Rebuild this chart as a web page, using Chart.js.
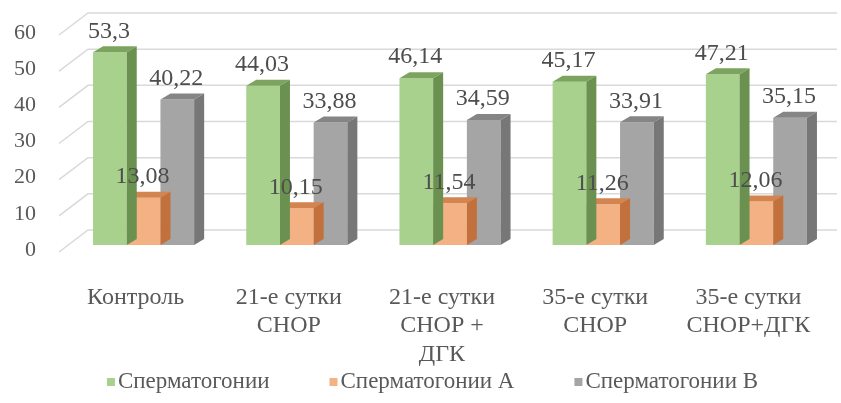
<!DOCTYPE html>
<html>
<head>
<meta charset="utf-8">
<script src="https://cdn.jsdelivr.net/npm/chart.js@4.4.0/dist/chart.umd.min.js"></script>
<style>
  html, body { margin: 0; padding: 0; background: #fff; }
  #wrap { width: 841px; height: 403px; }
</style>
</head>
<body>
<div id="wrap"><canvas id="spermChart" width="841" height="403"></canvas></div>
<script>
const categories = [
    'Контроль',
    ['21-е сутки', 'СНОР'],
    ['21-е сутки', 'СНОР +', 'ДГК'],
    ['35-е сутки', 'СНОР'],
    ['35-е сутки', 'СНОР+ДГК']
];
const spermatogonia = [53.3, 44.03, 46.14, 45.17, 47.21];
const spermatogoniaA = [13.08, 10.15, 11.54, 11.26, 12.06];
const spermatogoniaB = [40.22, 33.88, 34.59, 33.91, 35.15];
const yTicks = [0, 10, 20, 30, 40, 50, 60];

const serif = '"Liberation Serif", "Times New Roman", serif';
const textColor = '#595959';
const gridColor = '#d9d9d9';

// depth of the fake 3d look
const depthX = 10;
const depthY = 6;
const wallX = 21;
const wallY = 15;

const faces = [
    { side: '#6b9150', top: '#7da45f' },
    { side: '#c2703c', top: '#d4854f' },
    { side: '#777777', top: '#858585' }
];

const threeD = {
    id: 'threeD',
    beforeDatasetsDraw(chart) {
        const ctx = chart.ctx;
        const y = chart.scales.y;
        const area = chart.chartArea;
        ctx.save();
        ctx.strokeStyle = gridColor;
        ctx.lineWidth = 1.5;
        yTicks.forEach(v => {
            const py = y.getPixelForValue(v);
            ctx.beginPath();
            ctx.moveTo(area.left - 8, py + 7);
            ctx.lineTo(area.left + wallX, py - wallY);
            ctx.lineTo(chart.width - 4, py - wallY);
            ctx.stroke();
        });
        ctx.restore();
    },
    afterDatasetDraw(chart, args) {
        const ctx = chart.ctx;
        const face = faces[args.index];
        ctx.save();
        args.meta.data.forEach(bar => {
            const p = bar.getProps(['x', 'y', 'base', 'width'], true);
            const l = p.x - p.width / 2;
            const r = p.x + p.width / 2;
            ctx.fillStyle = face.top;
            ctx.beginPath();
            ctx.moveTo(l, p.y);
            ctx.lineTo(r, p.y);
            ctx.lineTo(r + depthX, p.y - depthY);
            ctx.lineTo(l + depthX, p.y - depthY);
            ctx.closePath();
            ctx.fill();
            ctx.fillStyle = face.side;
            ctx.beginPath();
            ctx.moveTo(r, p.y);
            ctx.lineTo(r + depthX, p.y - depthY);
            ctx.lineTo(r + depthX, p.base - depthY);
            ctx.lineTo(r, p.base);
            ctx.closePath();
            ctx.fill();
        });
        ctx.restore();
    },
    afterDatasetsDraw(chart) {
        const ctx = chart.ctx;
        ctx.save();
        ctx.font = '24px ' + serif;
        ctx.fillStyle = '#4d4d4d';
        ctx.textAlign = 'center';
        ctx.textBaseline = 'middle';
        chart.data.datasets.forEach((ds, i) => {
            chart.getDatasetMeta(i).data.forEach((bar, j) => {
                const text = String(ds.data[j]).replace('.', ',');
                ctx.fillText(text, bar.x - 1, bar.y - 21);
            });
        });
        ctx.restore();
    },
    afterDraw(chart) {
        // legend with wide gaps between entries
        const ctx = chart.ctx;
        const items = chart.data.datasets;
        const gap = 60;
        ctx.save();
        ctx.font = '23px ' + serif;
        ctx.textBaseline = 'middle';
        const widths = items.map(ds => 8 + 3 + ctx.measureText(ds.label).width);
        const total = widths.reduce((a, b) => a + b, 0) + gap * (items.length - 1);
        let x = (chart.width - total) / 2 + 12;
        const cy = 382;
        items.forEach((ds, i) => {
            ctx.fillStyle = ds.backgroundColor;
            ctx.fillRect(x, cy - 4, 8, 8);
            ctx.fillStyle = textColor;
            ctx.fillText(ds.label, x + 11, cy);
            x += widths[i] + gap;
        });
        ctx.restore();
    }
};

// drop the extra room chart.js reserves around tick labels
function noLabelPadding(scale) {
    scale.paddingTop = 0;
    scale.paddingBottom = 0;
    scale.paddingLeft = 0;
    scale.paddingRight = 0;
}

const ctx = document.getElementById('spermChart').getContext('2d');

new Chart(ctx, {
    type: 'bar',
    data: {
        labels: categories,
        datasets: [{
            label: 'Сперматогонии',
            data: spermatogonia,
            backgroundColor: '#a9d18e'
        }, {
            label: 'Сперматогонии А',
            data: spermatogoniaA,
            backgroundColor: '#f4b183'
        }, {
            label: 'Сперматогонии В',
            data: spermatogoniaB,
            backgroundColor: '#a5a5a5'
        }]
    },
    options: {
        responsive: false,
        animation: false,
        layout: {
            padding: { top: 28, right: 8, bottom: 32, left: 0 }
        },
        datasets: {
            bar: {
                categoryPercentage: 0.66,
                barPercentage: 1
            }
        },
        scales: {
            x: {
                grid: { display: false, drawTicks: false },
                border: { display: false },
                ticks: {
                    color: textColor,
                    font: { family: serif, size: 24, lineHeight: 1.19 },
                    padding: 38,
                    labelOffset: -8,
                    maxRotation: 0,
                    autoSkip: false
                },
                afterFit: scale => {
                    scale.height = 126;
                    noLabelPadding(scale);
                }
            },
            y: {
                min: 0,
                max: 60,
                grid: { display: false, drawTicks: false },
                border: { display: false },
                ticks: {
                    stepSize: 10,
                    color: textColor,
                    font: { family: serif, size: 22 },
                    padding: 31,
                    labelOffset: 5
                },
                afterFit: scale => {
                    scale.width = 67;
                    noLabelPadding(scale);
                }
            }
        },
        plugins: {
            legend: { display: false },
            tooltip: { enabled: false }
        }
    },
    plugins: [threeD]
});
</script>
</body>
</html>
